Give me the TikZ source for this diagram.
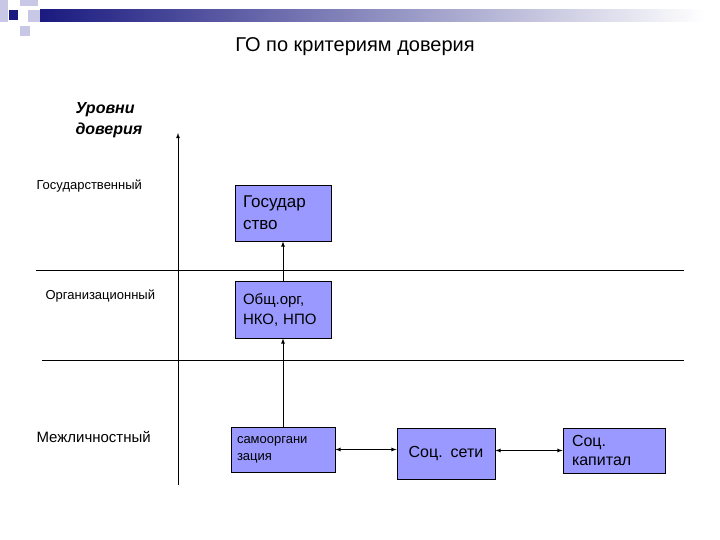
\documentclass[tikz,border=0pt]{standalone}
\usepackage{fontspec}
\setmainfont{Liberation Sans}
\begin{document}
\begin{tikzpicture}[x=1pt,y=-1pt,
  bx/.style={draw=black,fill=boxblue,line width=0.8pt,minimum width=96pt,text width=80pt,align=left,font=\fontsize{17}{22}\selectfont},
  sbx/.style={draw=black,fill=boxblue,line width=0.8pt,minimum width=104pt,minimum height=45pt,text width=92pt,align=left,font=\fontsize{13}{17}\selectfont},
  lvl/.style={font=\fontsize{13}{15}\selectfont,anchor=west},
  ln/.style={line width=0.8pt},
  arr/.style={line width=0.8pt,-latex}]
\definecolor{boxblue}{HTML}{9999FF}
\definecolor{navy}{HTML}{1A1A80}
\definecolor{lb}{HTML}{C8C8E6}
\useasboundingbox (0,0) rectangle (720,540);
\fill[white] (0,0) rectangle (720,540);
% decoration
\shade[left color=navy,right color=white] (40,10) rectangle (705,22);
\fill[lb] (0,0) rectangle (8,22);
\fill[lb] (20,0) rectangle (38,6);
\fill[lb] (28,10) rectangle (40,22);
\fill[lb] (20,26) rectangle (30,36);
\fill[navy] (9,10) rectangle (18,20);
\node (title) at (355,47) {\fontsize{20}{24}\selectfont ГО по критериям доверия};
\node (ylab) at (72,120) [anchor=west,align=left,font=\fontsize{16}{21}\selectfont\bfseries\itshape] {Уровни\\доверия};
\node[lvl] (l1) at (33,186) {Государственный};
\node[lvl] (l2) at (42,296) {Организационный};
\node[lvl,font=\fontsize{15}{17}\selectfont] (l3) at (33,437) {Межличностный};
\coordinate (ab) at (178,485);
\coordinate (at) at (178,133);
\draw[arr] (ab) -- (at);
\coordinate (h1a) at (36,270); \coordinate (h1b) at (684,270);
\coordinate (h2a) at (42,360); \coordinate (h2b) at (684,360);
\draw[ln] (h1a) -- (h1b);
\draw[ln] (h2a) -- (h2b);
\node[bx,minimum height=56pt] (g) at (283,213) {Государ\\ство};
\node[bx,minimum height=57pt,font=\fontsize{15}{20}\selectfont] (o) at (283,309.5) {Общ.орг,\\НКО, НПО};
\node[sbx] (s) at (283,449.5) {самооргани\\зация};
\node[bx,minimum width=98pt,minimum height=51pt,text width=88pt,align=center,font=\fontsize{16}{19}\selectfont] (n) at (446,453.5) {Соц. сети};
\node[sbx,minimum width=102pt,text width=84pt,font=\fontsize{16}{19}\selectfont] (k) at (614,450.5) {Соц.\\капитал};
\draw[arr] (s) -- (o);
\draw[arr] (o) -- (g);
\draw[ln,latex-latex] (s.east) -- (n.west |- s.east);
\draw[ln,latex-latex] (n.east |- k.west) -- (k.west);
\end{tikzpicture}
\end{document}
